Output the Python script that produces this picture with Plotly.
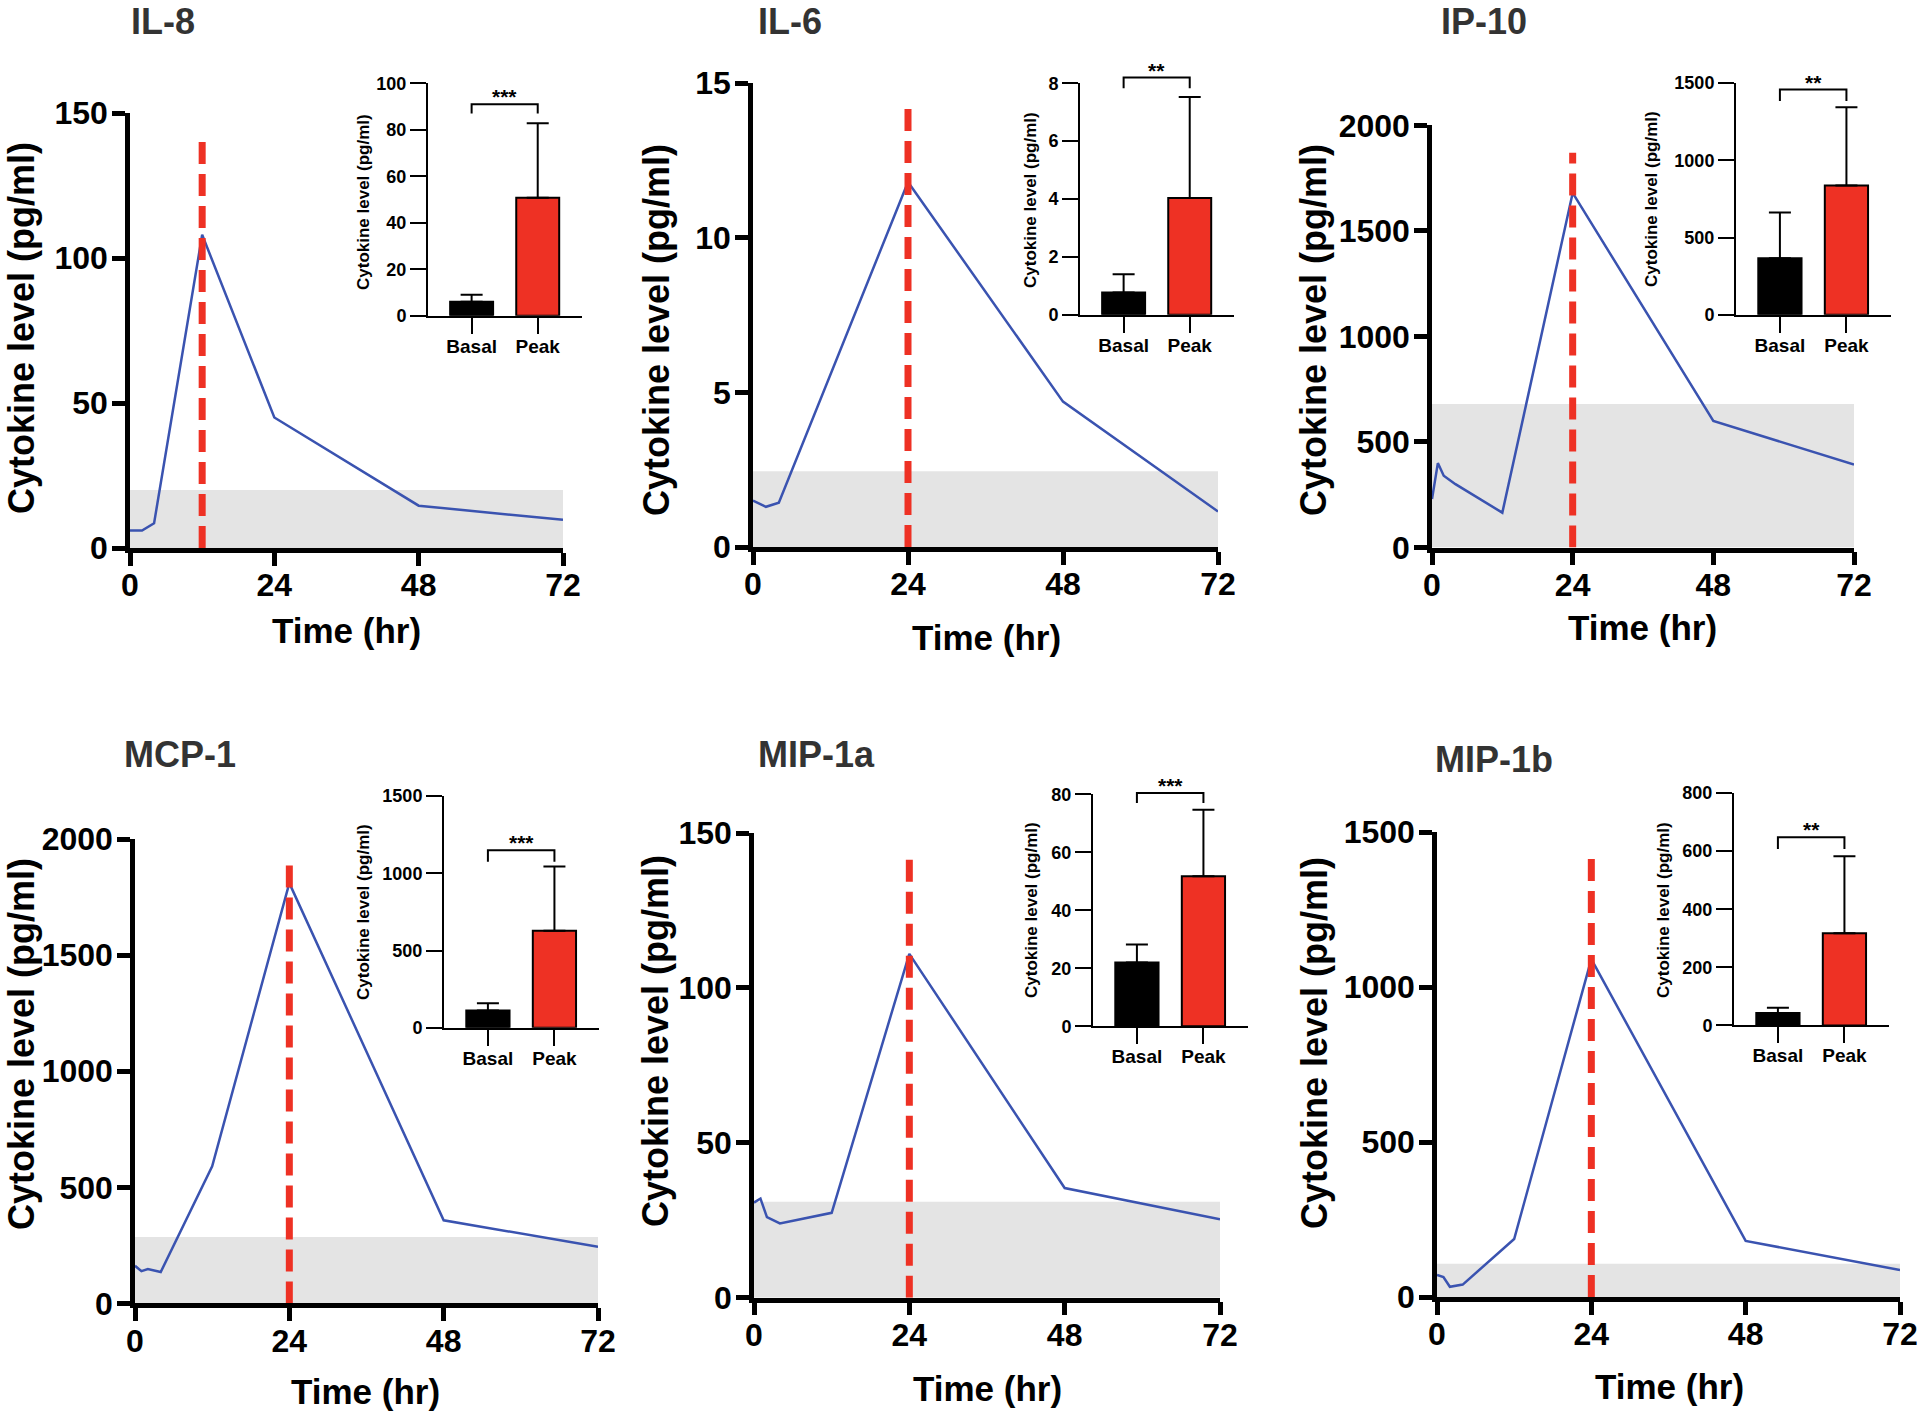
import plotly.graph_objects as go

W, H = 1920, 1414

# ---------------- data ----------------
names = ["IL-8", "IL-6", "IP-10", "MCP-1", "MIP-1a", "MIP-1b"]

il8_t = [0, 2, 4, 12, 24, 48, 72]
il8_v = [6, 6, 8.5, 108, 45, 14.6, 9.7]
il6_t = [0, 2, 4, 24, 48, 72]
il6_v = [1.5, 1.3, 1.43, 11.8, 4.7, 1.15]
ip10_t = [0, 1, 2, 4, 12, 24, 48, 72]
ip10_v = [230, 400, 340, 300, 165, 1680, 600, 393]
mcp1_t = [0, 1, 2, 4, 12, 24, 48, 72]
mcp1_v = [162, 139, 148, 135, 590, 1810, 358, 244]
mip1a_t = [0, 1, 2, 4, 12, 24, 48, 72]
mip1a_v = [30.7, 32, 26, 24, 27.4, 111, 35.4, 25.3]
mip1b_t = [0, 1, 2, 4, 12, 24, 48, 72]
mip1b_v = [71, 64, 33, 40, 187, 1090, 181, 87]

times = [il8_t, il6_t, ip10_t, mcp1_t, mip1a_t, mip1b_t]
values = [il8_v, il6_v, ip10_v, mcp1_v, mip1a_v, mip1b_v]

peak_time = [12, 24, 24, 24, 24, 24]
peak_line_top = [140, 14.4, 1870, 1915, 144, 1435]
basal_band = [20, 2.45, 680, 286, 31, 107]

main_ymax = [150, 15, 2000, 2000, 150, 1500]
main_yticks = [[0, 50, 100, 150], [0, 5, 10, 15], [0, 500, 1000, 1500, 2000],
               [0, 500, 1000, 1500, 2000], [0, 50, 100, 150], [0, 500, 1000, 1500]]
x_ticks = [0, 24, 48, 72]

bar_cats = ["Basal", "Peak"]
basal_mean = [6, 0.77, 365, 112, 22, 42.7]
basal_sd = [3, 0.63, 297, 46, 6.2, 18.3]
peak_mean = [50.7, 4.04, 836, 628, 51.8, 317]
peak_sd = [32.1, 3.49, 506, 416, 22.9, 265]
bracket_top = [91, 8.2, 1457, 1150, 80.5, 648]
bracket_drop = [87, 7.83, 1383, 1075, 77, 607]
stars = ["***", "**", "**", "***", "***", "**"]
inset_ymax = [100, 8, 1500, 1500, 80, 800]
inset_yticks = [[0, 20, 40, 60, 80, 100], [0, 2, 4, 6, 8], [0, 500, 1000, 1500],
                [0, 500, 1000, 1500], [0, 20, 40, 60, 80], [0, 200, 400, 600, 800]]

# ---------------- layout geometry (pixels) ----------------
main_box = [(130, 563, 113, 548), (753, 1218, 83, 547), (1432, 1854, 125.4, 547.5),
            (135, 598, 839, 1303.4), (754, 1220, 833, 1297.7), (1437, 1900, 832, 1297)]
inset_box = [(428, 582, 83.3, 315.7), (1080, 1234, 83.3, 314.8), (1736, 1891, 82.9, 314.8),
             (444, 599, 796.1, 1027.7), (1093, 1248, 794.4, 1026.3), (1734, 1889, 793, 1025.4)]
title_pos = [(129, 22), (756, 22), (1439, 22), (122, 755), (756, 755), (1433, 759)]
ylab_pos = [(21, 328), (657, 330), (1314, 330), (21, 1044), (655, 1041), (1314, 1043)]
xlab_pos = [(346, 631), (986, 638), (1642, 627), (365, 1391), (987, 1388), (1669, 1386)]
inset_ylab_pos = [(364, 202), (1030, 200), (1651, 199), (364, 912), (1031, 910), (1663, 910)]

FONT = "Liberation Sans, Arial, Helvetica, sans-serif"
BLUE = "#3a53b0"
RED = "#ee3124"
GRAY = "#e4e4e4"


def xd(a, b):
    return [a / W, b / W]


def yd(top, bottom):
    return [1 - bottom / H, 1 - top / H]


fig = go.Figure()
layout = {}
annotations = []

for i in range(6):
    m, n, o = 3 * i + 1, 3 * i + 2, 3 * i + 3
    xm, ym = f"x{m}", f"y{m}"
    xn, yn = f"x{n}", f"y{n}"
    xo, yo = f"x{o}", f"y{o}"

    # main panel
    fig.add_trace(go.Scatter(x=[0, 72], y=[basal_band[i], basal_band[i]], mode="lines",
                             line=dict(width=0), fill="tozeroy", fillcolor=GRAY,
                             xaxis=xm, yaxis=ym, showlegend=False, hoverinfo="skip"))
    fig.add_trace(go.Scatter(x=times[i], y=values[i], mode="lines",
                             line=dict(color=BLUE, width=2.5),
                             xaxis=xm, yaxis=ym, showlegend=False))
    fig.add_trace(go.Scatter(x=[peak_time[i], peak_time[i]], y=[0, peak_line_top[i]], mode="lines",
                             line=dict(color=RED, width=7, dash="22px,10px"),
                             xaxis=xm, yaxis=ym, showlegend=False))

    x0, x1, y0, y1 = main_box[i]
    axcommon = dict(showgrid=False, zeroline=False, showline=True, linecolor="black",
                    linewidth=4.5, ticks="outside", ticklen=13, tickwidth=4.5,
                    tickcolor="black", automargin=False,
                    tickfont=dict(family=FONT, size=32, color="black", weight="bold"))
    layout[f"xaxis{m}"] = dict(domain=xd(x0, x1), anchor=ym, range=[0, 72],
                               tickvals=x_ticks, ticktext=[str(v) for v in x_ticks],
                               ticklabelstandoff=-8, **axcommon)
    layout[f"yaxis{m}"] = dict(domain=yd(y0, y1), anchor=xm, range=[0, main_ymax[i]],
                               tickvals=main_yticks[i],
                               ticktext=[str(v) for v in main_yticks[i]],
                               ticklabelstandoff=-2, **axcommon)

    # inset
    fig.add_trace(go.Bar(x=[0, 1], y=[basal_mean[i], peak_mean[i]], width=0.65,
                         marker=dict(color=["#000000", RED], line=dict(color="black", width=2)),
                         error_y=dict(type="data", symmetric=False,
                                      array=[basal_sd[i], peak_sd[i]], arrayminus=[0, 0],
                                      color="black", thickness=2, width=11),
                         xaxis=xn, yaxis=yn, showlegend=False))
    ix0, ix1, iy0, iy1 = inset_box[i]
    icommon = dict(showgrid=False, zeroline=False, showline=True, linecolor="black",
                   linewidth=2, ticks="outside", ticklen=16, tickwidth=2, tickcolor="black",
                   automargin=False)
    layout[f"xaxis{n}"] = dict(domain=xd(ix0, ix1), anchor=yn, range=[-0.66, 1.67],
                               tickvals=[0, 1], ticktext=bar_cats, ticklabelstandoff=-4,
                               tickfont=dict(family=FONT, size=19, color="black", weight="bold"),
                               **icommon)
    layout[f"yaxis{n}"] = dict(domain=yd(iy0, iy1), anchor=xn, range=[0, inset_ymax[i]],
                               tickvals=inset_yticks[i],
                               ticktext=[str(v) for v in inset_yticks[i]],
                               tickfont=dict(family=FONT, size=18, color="black", weight="bold"),
                               **icommon)

    # overlay axes for the significance bracket (extends above inset range)
    extra = 45
    hpx = iy1 - iy0
    layout[f"xaxis{o}"] = dict(domain=xd(ix0, ix1), anchor=yo, range=[-0.66, 1.67],
                               visible=False, automargin=False)
    layout[f"yaxis{o}"] = dict(domain=yd(iy0 - extra, iy1), anchor=xo,
                               range=[0, inset_ymax[i] * (hpx + extra) / hpx], visible=False,
                               automargin=False)
    fig.add_trace(go.Scatter(x=[0, 0, 1, 1],
                             y=[bracket_drop[i], bracket_top[i], bracket_top[i], bracket_drop[i]],
                             mode="lines", line=dict(color="black", width=2),
                             xaxis=xo, yaxis=yo, showlegend=False))
    annotations.append(dict(x=0.5, y=bracket_top[i], xref=xo, yref=yo, text=stars[i],
                            showarrow=False, yanchor="bottom", yshift=-6,
                            font=dict(family=FONT, size=21, color="black", weight="bold")))

    # texts
    tx, ty = title_pos[i]
    annotations.append(dict(x=tx / W, y=1 - ty / H, xref="paper", yref="paper", text=names[i],
                            showarrow=False, xanchor="left", yanchor="middle",
                            font=dict(family=FONT, size=36, color="#333333", weight="bold")))
    lx, ly = ylab_pos[i]
    annotations.append(dict(x=lx / W, y=1 - ly / H, xref="paper", yref="paper",
                            text="Cytokine level (pg/ml)", textangle=-90, showarrow=False,
                            xanchor="center", yanchor="middle",
                            font=dict(family=FONT, size=36, color="black", weight="bold")))
    bx, by = xlab_pos[i]
    annotations.append(dict(x=bx / W, y=1 - by / H, xref="paper", yref="paper",
                            text="Time (hr)", showarrow=False, xanchor="center",
                            yanchor="middle",
                            font=dict(family=FONT, size=35, color="black", weight="bold")))
    sx, sy = inset_ylab_pos[i]
    annotations.append(dict(x=sx / W, y=1 - sy / H, xref="paper", yref="paper",
                            text="Cytokine level (pg/ml)", textangle=-90, showarrow=False,
                            xanchor="center", yanchor="middle",
                            font=dict(family=FONT, size=17, color="black", weight="bold")))

fig.update_layout(width=W, height=H,
                  margin=dict(l=0, r=0, t=0, b=0, pad=0, autoexpand=False),
                  paper_bgcolor="white", plot_bgcolor="rgba(0,0,0,0)",
                  annotations=annotations, showlegend=False, **layout)

fig.write_html("out.html", config={"displayModeBar": False},
               post_script="document.body.style.margin='0';document.body.style.padding='0';"
                           "document.body.style.overflow='hidden';")
